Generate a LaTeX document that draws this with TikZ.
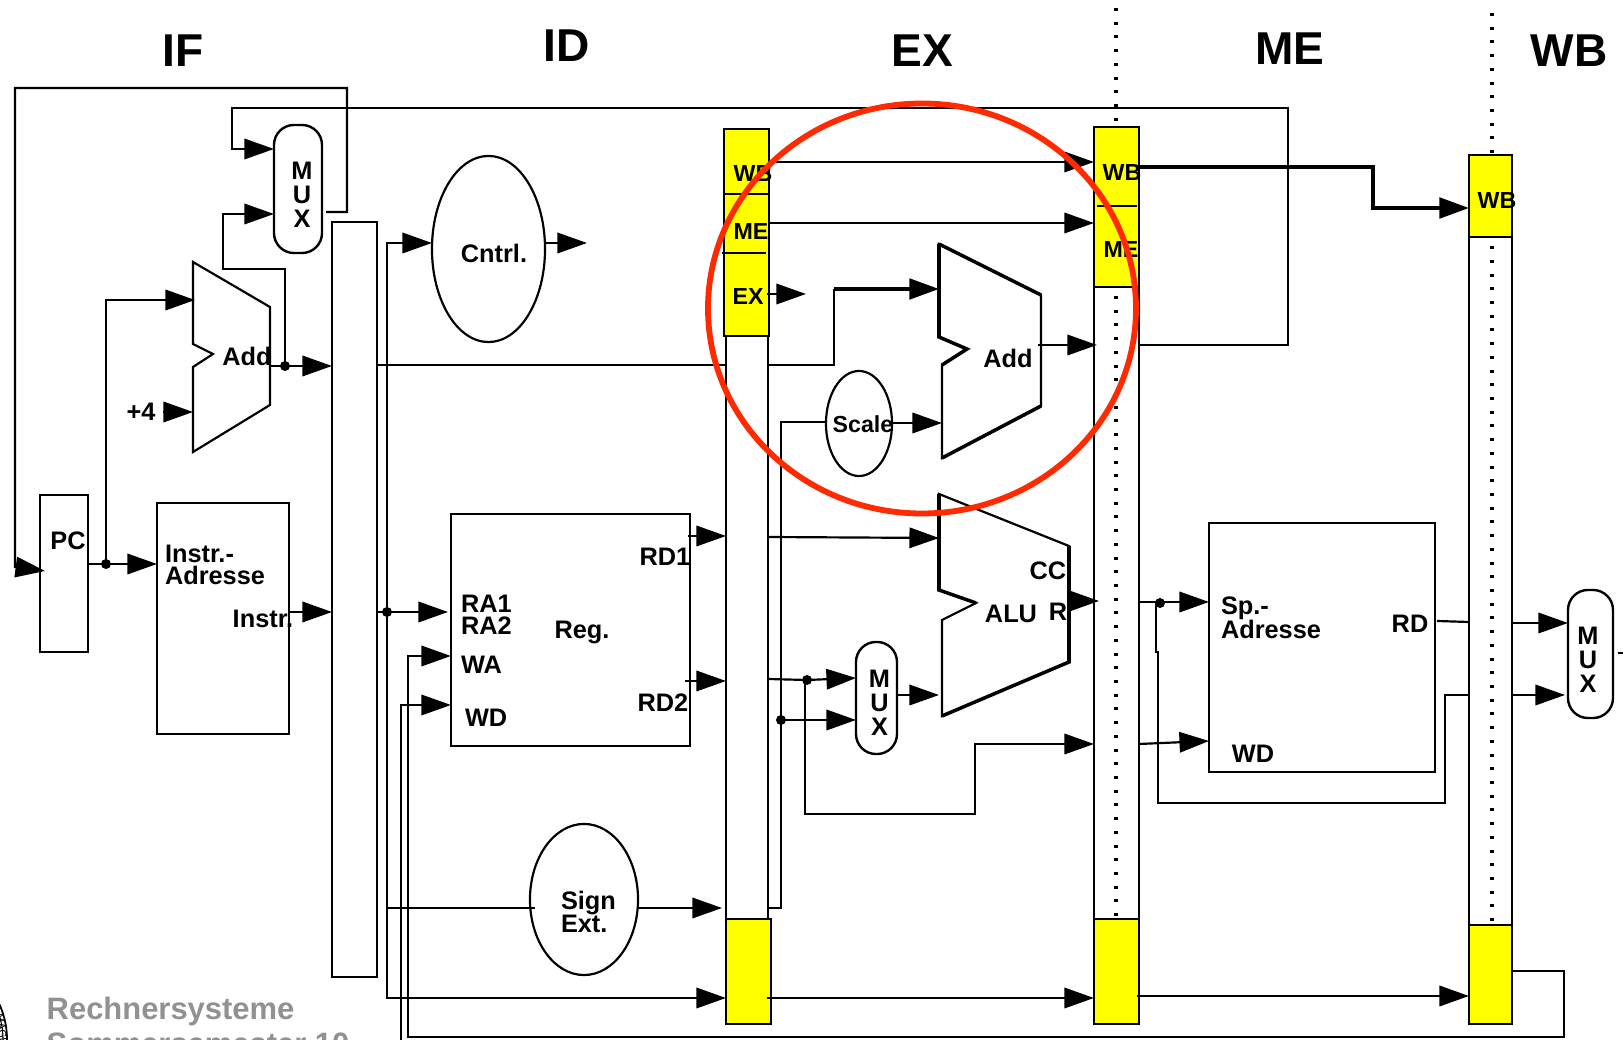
\documentclass[tikz,border=0pt]{standalone}
\usepackage{fontspec}
\usepackage{xcolor}
\setmainfont{Liberation Sans}
\usetikzlibrary{positioning,arrows.meta,shapes.geometric}
\definecolor{regyellow}{RGB}{255,255,0}
\definecolor{markred}{RGB}{255,42,0}
\definecolor{footgrey}{RGB}{145,145,145}

\begin{document}
\begin{tikzpicture}[
    x=0.01cm, y=-0.01cm,
    wire/.style={line width=0.62pt},
    heavy/.style={line width=1pt},
    arrow/.style={-{Triangle[length=8.4pt,width=5.8pt]}, line width=0.62pt},
    heavyarrow/.style={-{Triangle[length=8.4pt,width=5.8pt]}, line width=0.85pt},
    block/.style={rectangle, draw, line width=0.68pt, inner sep=0pt, outer sep=0pt},
    pipe/.style={block, fill=white},
    latch/.style={block, fill=regyellow},
    mux/.style={block, rounded corners=0.2cm},
    oval/.style={ellipse, draw, line width=0.62pt, inner sep=0pt, outer sep=0pt},
    junction/.style={circle, fill=black, inner sep=0pt, minimum size=0.1cm},
    tag/.style={inner sep=0pt, outer sep=0pt, align=left, font=\fontsize{7.2}{6.4}\bfseries\selectfont},
    muxtag/.style={inner sep=0pt, outer sep=0pt, align=center, font=\fontsize{7.2}{6.8}\bfseries\selectfont},
    smalltag/.style={tag, font=\fontsize{6.6}{6.4}\bfseries\selectfont},
    stage/.style={inner sep=0pt, font=\fontsize{13.1}{14}\bfseries\selectfont},
    foot/.style={anchor=base west, inner sep=0pt, text=footgrey, font=\fontsize{8.8}{10}\bfseries\selectfont}
]
\useasboundingbox (0,0) rectangle (1623,1040);

\node[stage] (stageif) at (183,51) {IF};
\node[stage] (stageid) at (567,46) {ID};
\node[stage] (stageex) at (922,51) {EX};
\node[stage] (stageme) at (1290,49) {ME};
\node[stage] (stagewb) at (1569,51) {WB};

\node[block, minimum width=0.48cm, minimum height=1.57cm] (pc) at (64,573.5) {};
\node[block, minimum width=1.32cm, minimum height=2.31cm] (imem) at (223,618.5) {};
\node[mux, minimum width=0.48cm, minimum height=1.28cm] (ifmux) at (298,189) {};
\node[pipe, minimum width=0.45cm, minimum height=7.55cm] (ifid) at (354.5,599.5) {};
\node[oval, minimum width=1.13cm, minimum height=1.86cm] (cntrl) at (488.5,249) {};
\node[block, minimum width=2.39cm, minimum height=2.32cm] (regs) at (570.5,630) {};
\node[oval, minimum width=1.08cm, minimum height=1.51cm] (signext) at (584,899.5) {};
\node[pipe, minimum width=0.42cm, minimum height=5.83cm] (idex) at (747,627.5) {};
\node[oval, minimum width=0.66cm, minimum height=1.05cm] (scale) at (859,423.5) {};
\node[mux, minimum width=0.41cm, minimum height=1.12cm] (exmux) at (876.5,698) {};
\node[pipe, minimum width=0.45cm, minimum height=6.32cm] (exme) at (1116.5,603) {};
\node[block, minimum width=2.26cm, minimum height=2.49cm] (dmem) at (1322,647.5) {};
\node[pipe, minimum width=0.43cm, minimum height=6.88cm] (mewb) at (1490.5,581) {};
\node[mux, minimum width=0.45cm, minimum height=1.28cm] (wbmux) at (1590.5,654) {};

\coordinate (dotmetop) at (1116,8);
\coordinate (dotmebot) at (1116,920);
\coordinate (dotwbtop) at (1492,13);
\coordinate (dotwbbot) at (1492,925);
\draw[line width=0.95pt, dash pattern=on 0.85pt off 3.05pt] (dotmetop) -- (dotmebot);
\draw[line width=0.95pt, dash pattern=on 0.85pt off 3.05pt] (dotwbtop) -- (dotwbbot);

\node[latch, minimum width=0.45cm, minimum height=2.07cm] (idexctl) at (746.5,232.5) {};
\node[latch, minimum width=0.45cm, minimum height=1.05cm] (idexdat) at (748.5,971.5) {};
\node[latch, minimum width=0.45cm, minimum height=1.6cm] (exmectl) at (1116.5,207) {};
\node[latch, minimum width=0.45cm, minimum height=1.05cm] (exmedat) at (1116.5,971.5) {};
\node[latch, minimum width=0.43cm, minimum height=0.82cm] (mewbctl) at (1490.5,196) {};
\node[latch, minimum width=0.43cm, minimum height=0.99cm] (mewbdat) at (1490.5,974.5) {};

\coordinate (idexdivtopl) at (724,194);
\coordinate (idexdivtopr) at (769,194);
\coordinate (idexdivlowl) at (722,253);
\coordinate (idexdivlowr) at (766,253);
\coordinate (exmedivl) at (1097,206);
\coordinate (exmedivr) at (1137,206);
\draw[wire] (idexdivtopl) -- (idexdivtopr);
\draw[wire] (idexdivlowl) -- (idexdivlowr);
\draw[wire] (exmedivl) -- (exmedivr);

\draw[wire, line join=miter] (193,262) -- (270,307) -- (270,405) -- (193,452) -- (193,367) -- (213,354) -- (193,344) -- cycle;
\draw[wire, line join=miter] (939,244) -- (1041,295) -- (1041,406) -- (942,458) -- (942,365) -- (967,349) -- (939,337) -- cycle;
\draw[heavy] (939,244) -- (939,337) -- (967,349) -- (942,365);
\draw[heavy] (1041,406) -- (942,458);
\draw[heavy] (939,244) -- (1041,295);
\draw[wire, line join=miter] (939,494) -- (1069,546) -- (1069,662) -- (942,716) -- (942,620) -- (976,603) -- (939,590) -- cycle;
\draw[heavy] (939,494) -- (939,590) -- (976,603);
\draw[heavy] (1069,546) -- (1069,662) -- (942,716);

\coordinate (muxfbout) at (326,212);
\coordinate (muxfbright) at (347,88);
\coordinate (muxfbleft) at (15,88);
\coordinate (muxfbdown) at (15,567);
\coordinate (pcin) at (45,571);
\draw[arrow] (muxfbout) -| (muxfbright) -- (muxfbleft) -- (muxfbdown) -- (pcin);

\coordinate (pcout) at (88,564);
\coordinate (pcnext) at (106,300);
\coordinate (addfirst) at (195,300);
\node[junction] (pcdot) at (106,564) {};
\draw[arrow] (pcout) -- (pcout -| imem.west);
\draw[arrow] (pcdot.center) -- (pcnext) -- (addfirst);

\coordinate (plusin) at (163,412);
\coordinate (addsecond) at (193,412);
\draw[arrow] (plusin) -- (addsecond);

\coordinate (addout) at (270,366);
\coordinate (loopa) at (285,269);
\coordinate (loopb) at (223,269);
\coordinate (loopc) at (223,214);
\node[junction] (adddot) at (285,366) {};
\draw[arrow] (addout) -- (addout -| ifid.west);
\draw[arrow] (adddot.center) -- (loopa) -- (loopb) -- (loopc) -- (loopc -| ifmux.west);

\coordinate (branchout) at (1139,345);
\coordinate (brancha) at (1288,108);
\coordinate (branchb) at (232,108);
\coordinate (branchc) at (232,149);
\draw[arrow] (branchout) -| (brancha) -- (branchb) -- (branchc) -- (branchc -| ifmux.west);

\coordinate (instrout) at (289,612);
\draw[arrow] (instrout) -- (instrout -| ifid.west);

\coordinate (instrbus) at (377,612);
\coordinate (raone) at (448,612);
\coordinate (cntrlbus) at (386,243);
\coordinate (busturn) at (388,998);
\coordinate (signbus) at (388,908);
\coordinate (signin) at (535,908);
\node[junction] (busdot) at (387,612) {};
\draw[arrow] (instrbus) -- (raone);
\draw[arrow] (busdot.center) |- (cntrlbus -| cntrl.west);
\draw[arrow] (busdot.center) |- (busturn -| idex.west);
\draw[wire] (signbus) -- (signin);

\coordinate (cntrlout) at (545,243);
\coordinate (cntrltip) at (587,243);
\draw[arrow] (cntrlout) -- (cntrltip);

\coordinate (pcpass) at (377,365);
\coordinate (pcjog) at (834,365);
\coordinate (pcjogtop) at (834,289);
\coordinate (addextop) at (939,289);
\draw[line width=0.8pt] (pcpass) -- (pcpass -| idex.west);
\draw[line width=0.8pt] (idex.east |- pcjog) -- (pcjog) -- (pcjogtop);
\draw[heavyarrow, line width=1.05pt] (pcjogtop) -- (addextop);

\coordinate (wbline) at (769,162);
\coordinate (meline) at (769,223);
\coordinate (exline) at (767,294);
\coordinate (extip) at (806,294);
\draw[arrow] (wbline) -- (wbline -| exme.west);
\draw[arrow] (meline) -- (meline -| exme.west);
\draw[arrow] (exline) -- (extip);

\coordinate (scaleturn) at (781,422);
\coordinate (immout) at (768,908);
\coordinate (scaleout) at (892,423);
\coordinate (scaletip) at (942,423);
\draw[wire] (immout) -| (scaleturn) -- (scaleturn -| scale.west);
\draw[arrow] (scaleout) -- (scaletip);

\coordinate (addexout) at (1038,345);
\coordinate (addextip) at (1097,345);
\draw[arrow] (addexout) -- (addextip);

\coordinate (rdonea) at (688,536);
\coordinate (rdtwoa) at (685,681);
\draw[arrow] (rdonea) -- (rdonea -| idex.west);
\draw[arrow] (rdtwoa) -- (rdtwoa -| idex.west);

\coordinate (aluina) at (768,537);
\coordinate (aluinb) at (939,538);
\draw[arrow] (aluina) -- (aluinb);

\coordinate (rdtwob) at (768,679);
\coordinate (muxupper) at (856,678);
\coordinate (muxlower) at (856,720);
\node[junction] (rdtwodot) at (807,680) {};
\node[junction] (immdot) at (781,720) {};
\draw[arrow] (rdtwob) -- (rdtwodot.center) -- (muxupper);
\draw[arrow] (immdot.center) -- (muxlower);

\coordinate (storea) at (805,814);
\coordinate (storeb) at (975,814);
\coordinate (storec) at (975,744);
\draw[arrow] (rdtwodot.center -| storea) -- (storea) -- (storeb) -- (storec) -- (storec -| exme.west);

\coordinate (muxout) at (897,695);
\coordinate (muxtip) at (939,695);
\draw[arrow] (muxout) -- (muxtip);

\coordinate (aluout) at (1069,601);
\coordinate (alutip) at (1099,601);
\draw[arrow] (aluout) -- (alutip);

\coordinate (signout) at (638,908);
\coordinate (signtip) at (722,908);
\draw[arrow] (signout) -- (signtip);

\coordinate (ctlthrough) at (767,998);
\draw[arrow] (ctlthrough) -- (ctlthrough -| exmedat.west);
\coordinate (datthrough) at (1137,996);
\draw[arrow] (datthrough) -- (datthrough -| mewbdat.west);

\coordinate (wbstart) at (1140,167);
\coordinate (wbjog) at (1373,167);
\coordinate (wbend) at (1373,208);
\draw[heavyarrow, line width=1.1pt] (wbstart) -- (wbjog) -- (wbend) -- (wbend -| mewbctl.west);

\coordinate (memaddr) at (1139,602);
\coordinate (memaddrtip) at (1209,602);
\coordinate (memwda) at (1139,744);
\coordinate (memwdb) at (1209,741);
\coordinate (bypassa) at (1156,652);
\coordinate (bypassb) at (1158,652);
\coordinate (bypassc) at (1158,803);
\coordinate (bypassd) at (1445,803);
\coordinate (bypasse) at (1445,695);
\coordinate (bypassf) at (1469,695);
\node[junction] (memdot) at (1160,603) {};
\draw[arrow] (memaddr) -- (memaddrtip);
\draw[arrow] (memwda) -- (memwdb);
\draw[wire] (memdot.center -| bypassa) -- (bypassa) -- (bypassb) -- (bypassc) -- (bypassd) -- (bypasse) -- (bypassf);

\coordinate (rdout) at (1437,621);
\coordinate (rdin) at (1469,622);
\draw[wire] (rdout) -- (rdin);

\coordinate (muxwba) at (1512,623);
\coordinate (muxwbb) at (1512,695);
\coordinate (muxwbbtip) at (1565,695);
\coordinate (muxwbout) at (1618,653);
\coordinate (muxwbedge) at (1623,653);
\draw[arrow] (muxwba) -- (muxwba -| wbmux.west);
\draw[arrow] (muxwbb) -- (muxwbbtip);
\draw[wire] (muxwbout) -- (muxwbedge);

\coordinate (waa) at (1512,971);
\coordinate (wab) at (1564,1037);
\coordinate (wac) at (408,1037);
\coordinate (wad) at (408,656);
\coordinate (wdbottom) at (401,1040);
\coordinate (wdturn) at (401,705);
\draw[arrow] (waa) -| (wab) -- (wac) -- (wad) -- (wad -| regs.west);
\draw[arrow] (wdbottom) -- (wdturn) -- (wdturn -| regs.west);

\node[muxtag] (ifmuxtag) at (302,195) {M\\U\\X};
\node[muxtag] (exmuxtag) at (879.5,703) {M\\U\\X};
\node[muxtag] (wbmuxtag) at (1588,659.5) {M\\U\\X};
\node[tag] (pctag) at (68,541) {PC};
\node[tag, anchor=west] (imemtag) at (165,565) {Instr.-\\Adresse};
\node[tag] (instrtag) at (263,619) {Instr.};
\node[tag] (plustag) at (141,412) {+4};
\node[tag] (addiftag) at (247,356) {Add};
\node[tag] (cntrltag) at (494,253) {Cntrl.};
\node[tag, anchor=west] (ratag) at (461,615) {RA1\\RA2};
\node[tag, anchor=west] (watag) at (461,665) {WA};
\node[tag, anchor=west] (wdtag) at (465,718) {WD};
\node[tag] (regtag) at (582,632) {Reg.};
\node[tag] (rdonetag) at (665,557) {RD1};
\node[tag] (rdtwotag) at (663,703) {RD2};
\node[tag, anchor=west] (signtag) at (561,912) {Sign\\[-0.9pt]Ext.};
\node[smalltag] (ctlwb) at (753,174) {WB};
\node[smalltag] (ctlme) at (751,232) {ME};
\node[smalltag] (ctlex) at (748,297) {EX};
\node[smalltag] (scaletag) at (863,424) {Scale};
\node[tag] (addextag) at (1008,358) {Add};
\node[tag] (cctag) at (1048,571) {CC};
\node[tag] (alutag) at (1011,614) {ALU};
\node[tag] (rtag) at (1058,612) {R};
\node[smalltag] (mewbtag) at (1122,173) {WB};
\node[smalltag] (memetag) at (1121,250) {ME};
\node[smalltag] (wbwbtag) at (1497,201) {WB};
\node[tag, anchor=west] (dmemtag) at (1221,618) {Sp.-\\[-0.9pt]Adresse};
\node[tag] (rdtag) at (1410,624) {RD};
\node[tag] (dwdtag) at (1253,754) {WD};

\node[foot] (footone) at (46,1020) {Rechnersysteme};
\node[foot] (foottwo) at (46,1055) {Sommersemester 10};
\node[circle, draw, line width=0.5pt, minimum size=1.74cm] (sealouter) at (-80,1040) {};
\node[circle, draw, line width=0.3pt, minimum size=1.66cm] (sealinner) at (-80,1040) {};
\node[rotate=-82, inner sep=0pt, font=\fontsize{3}{3}\selectfont] (sealtext) at (2,1030) {MAGD};

\draw[markred, line width=1.65pt] (922,308.5) ellipse [x radius=214, y radius=205];
\end{tikzpicture}
\end{document}
